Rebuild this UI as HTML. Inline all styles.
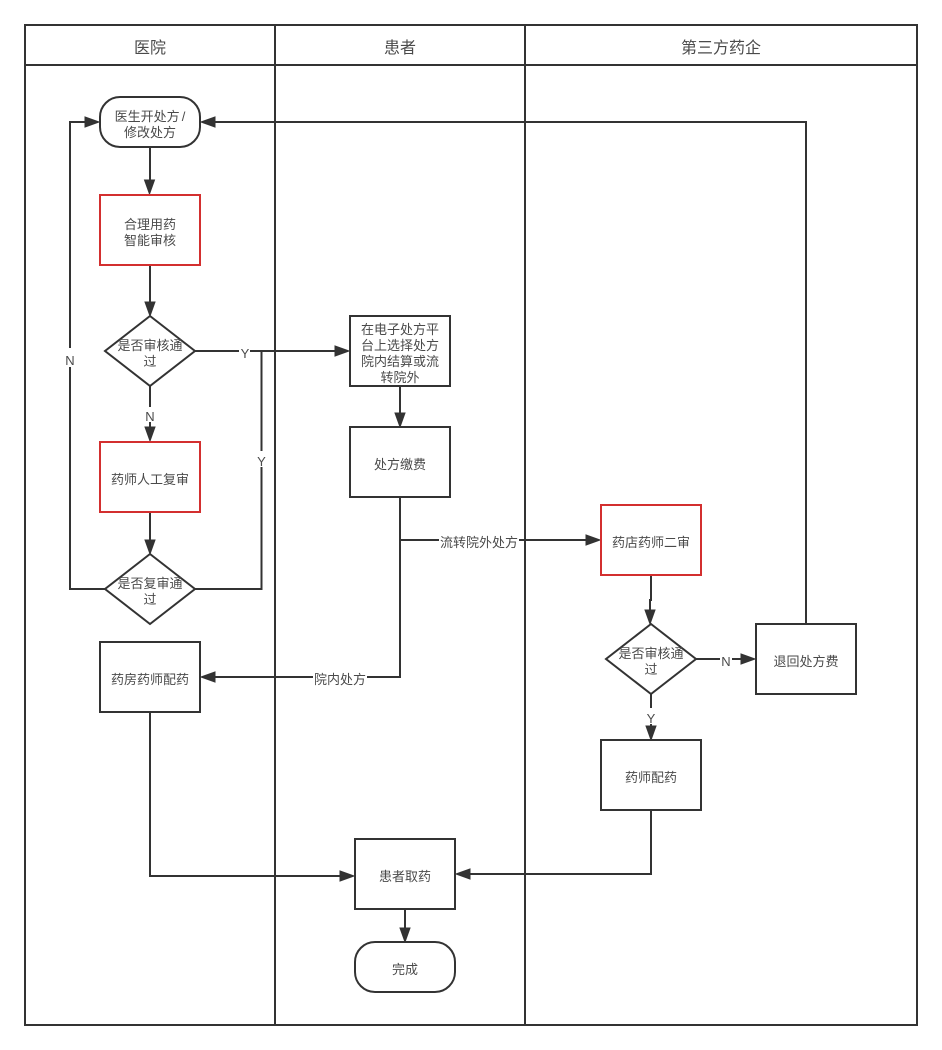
<!DOCTYPE html>
<html><head><meta charset="utf-8"><style>
html,body{margin:0;padding:0;background:#fff;width:942px;height:1050px;overflow:hidden}
svg{display:block}
text{font-family:"Liberation Sans","Noto Sans CJK SC",sans-serif;fill:#4a4a4a;font-size:13px;text-anchor:middle}
.h{font-size:16px}
.l{fill:none;stroke:#333;stroke-width:2}
.b{fill:#fff;stroke:#333;stroke-width:2}
.r{fill:#fff;stroke:#d32f2f;stroke-width:2}
.a{fill:#333;stroke:#333;stroke-width:1}
.w{fill:#fff;stroke:none}
</style></head><body>
<svg width="942" height="1050" viewBox="0 0 942 1050" xmlns="http://www.w3.org/2000/svg">
<rect x="25" y="25" width="892" height="1000" fill="#fff" stroke="#333" stroke-width="2"/>
<path class="l" d="M25 65H917M275 25V1025M525 25V1025"/>
<text class="h" x="150" y="53">医院</text>
<text class="h" x="400" y="53">患者</text>
<text class="h" x="721" y="53">第三方药企</text>

<!-- connectors -->
<path class="l" d="M150 147V182"/>
<path class="l" d="M150 265V304"/>
<path class="l" d="M150 386V430"/>
<path class="l" d="M150 512V542"/>
<path class="l" d="M105 589H70V122H88"/>
<path class="l" d="M195 351H338"/>
<path class="l" d="M195 589H261.5V351"/>
<path class="l" d="M400 386V415"/>
<path class="l" d="M400 497V677H212"/>
<path class="l" d="M400 540H588"/>
<path class="l" d="M651 575V600H650V612"/>
<path class="l" d="M696 659H743"/>
<path class="l" d="M651 694V728"/>
<path class="l" d="M806 624V122H212"/>
<path class="l" d="M150 712V876H342"/>
<path class="l" d="M651 810V874H468"/>
<path class="l" d="M405 909V930"/>

<!-- arrowheads -->
<path class="a" d="M149.5 194L144.5 180H154.5Z"/>
<path class="a" d="M150 316L145 302H155Z"/>
<path class="a" d="M150 441L145 427H155Z"/>
<path class="a" d="M150 554L145 540H155Z"/>
<path class="a" d="M99 122L85 117V127Z"/>
<path class="a" d="M201 122L215 117V127Z"/>
<path class="a" d="M349 351L335 346V356Z"/>
<path class="a" d="M400 427L395 413H405Z"/>
<path class="a" d="M600 540L586 535V545Z"/>
<path class="a" d="M201 677L215 672V682Z"/>
<path class="a" d="M650 624L645 610H655Z"/>
<path class="a" d="M755 659L741 654V664Z"/>
<path class="a" d="M651 740L646 726H656Z"/>
<path class="a" d="M354 876L340 871V881Z"/>
<path class="a" d="M456 874L470 869V879Z"/>
<path class="a" d="M405 942L400 928H410Z"/>

<!-- connector labels -->
<rect class="w" x="239" y="344" width="11" height="15"/><text x="245" y="358">Y</text>
<rect class="w" x="255" y="451" width="13" height="16"/><text x="261.5" y="466">Y</text>
<rect class="w" x="63" y="348" width="13" height="19"/><text x="70" y="365">N</text>
<rect class="w" x="143" y="407" width="14" height="15"/><text x="150" y="421">N</text>
<rect class="w" x="439" y="533" width="80" height="16"/><text x="479" y="547">流转院外处方</text>
<rect class="w" x="313" y="671" width="54" height="16"/><text x="340" y="684">院内处方</text>
<rect class="w" x="720" y="653" width="12" height="15"/><text x="726" y="666">N</text>
<rect class="w" x="644" y="708" width="14" height="16"/><text x="651" y="723">Y</text>

<!-- nodes -->
<rect class="b" x="100" y="97" width="100" height="50" rx="20" ry="20"/>
<text x="150" y="121">医生开处方<tspan dx="2">/</tspan></text><text x="150" y="137">修改处方</text>
<rect class="r" x="100" y="195" width="100" height="70"/>
<text x="150" y="229">合理用药</text><text x="150" y="245">智能审核</text>
<path class="b" d="M150 316L195 351L150 386L105 351Z"/>
<text x="150" y="350">是否审核通</text><text x="150" y="366">过</text>
<rect class="r" x="100" y="442" width="100" height="70"/>
<text x="150" y="484">药师人工复审</text>
<path class="b" d="M150 554L195 589L150 624L105 589Z"/>
<text x="150" y="588">是否复审通</text><text x="150" y="604">过</text>
<rect class="b" x="100" y="642" width="100" height="70"/>
<text x="150" y="684">药房药师配药</text>

<rect class="b" x="350" y="316" width="100" height="70"/>
<text x="400" y="334">在电子处方平</text><text x="400" y="350">台上选择处方</text><text x="400" y="366">院内结算或流</text><text x="400" y="382">转院外</text>
<rect class="b" x="350" y="427" width="100" height="70"/>
<text x="400" y="469">处方缴费</text>
<rect class="b" x="355" y="839" width="100" height="70"/>
<text x="405" y="881">患者取药</text>
<rect class="b" x="355" y="942" width="100" height="50" rx="20" ry="20"/>
<text x="405" y="974">完成</text>

<rect class="r" x="601" y="505" width="100" height="70"/>
<text x="651" y="547">药店药师二审</text>
<path class="b" d="M651 624L696 659L651 694L606 659Z"/>
<text x="651" y="658">是否审核通</text><text x="651" y="674">过</text>
<rect class="b" x="756" y="624" width="100" height="70"/>
<text x="806" y="666">退回处方费</text>
<rect class="b" x="601" y="740" width="100" height="70"/>
<text x="651" y="782">药师配药</text>
</svg>
</body></html>
